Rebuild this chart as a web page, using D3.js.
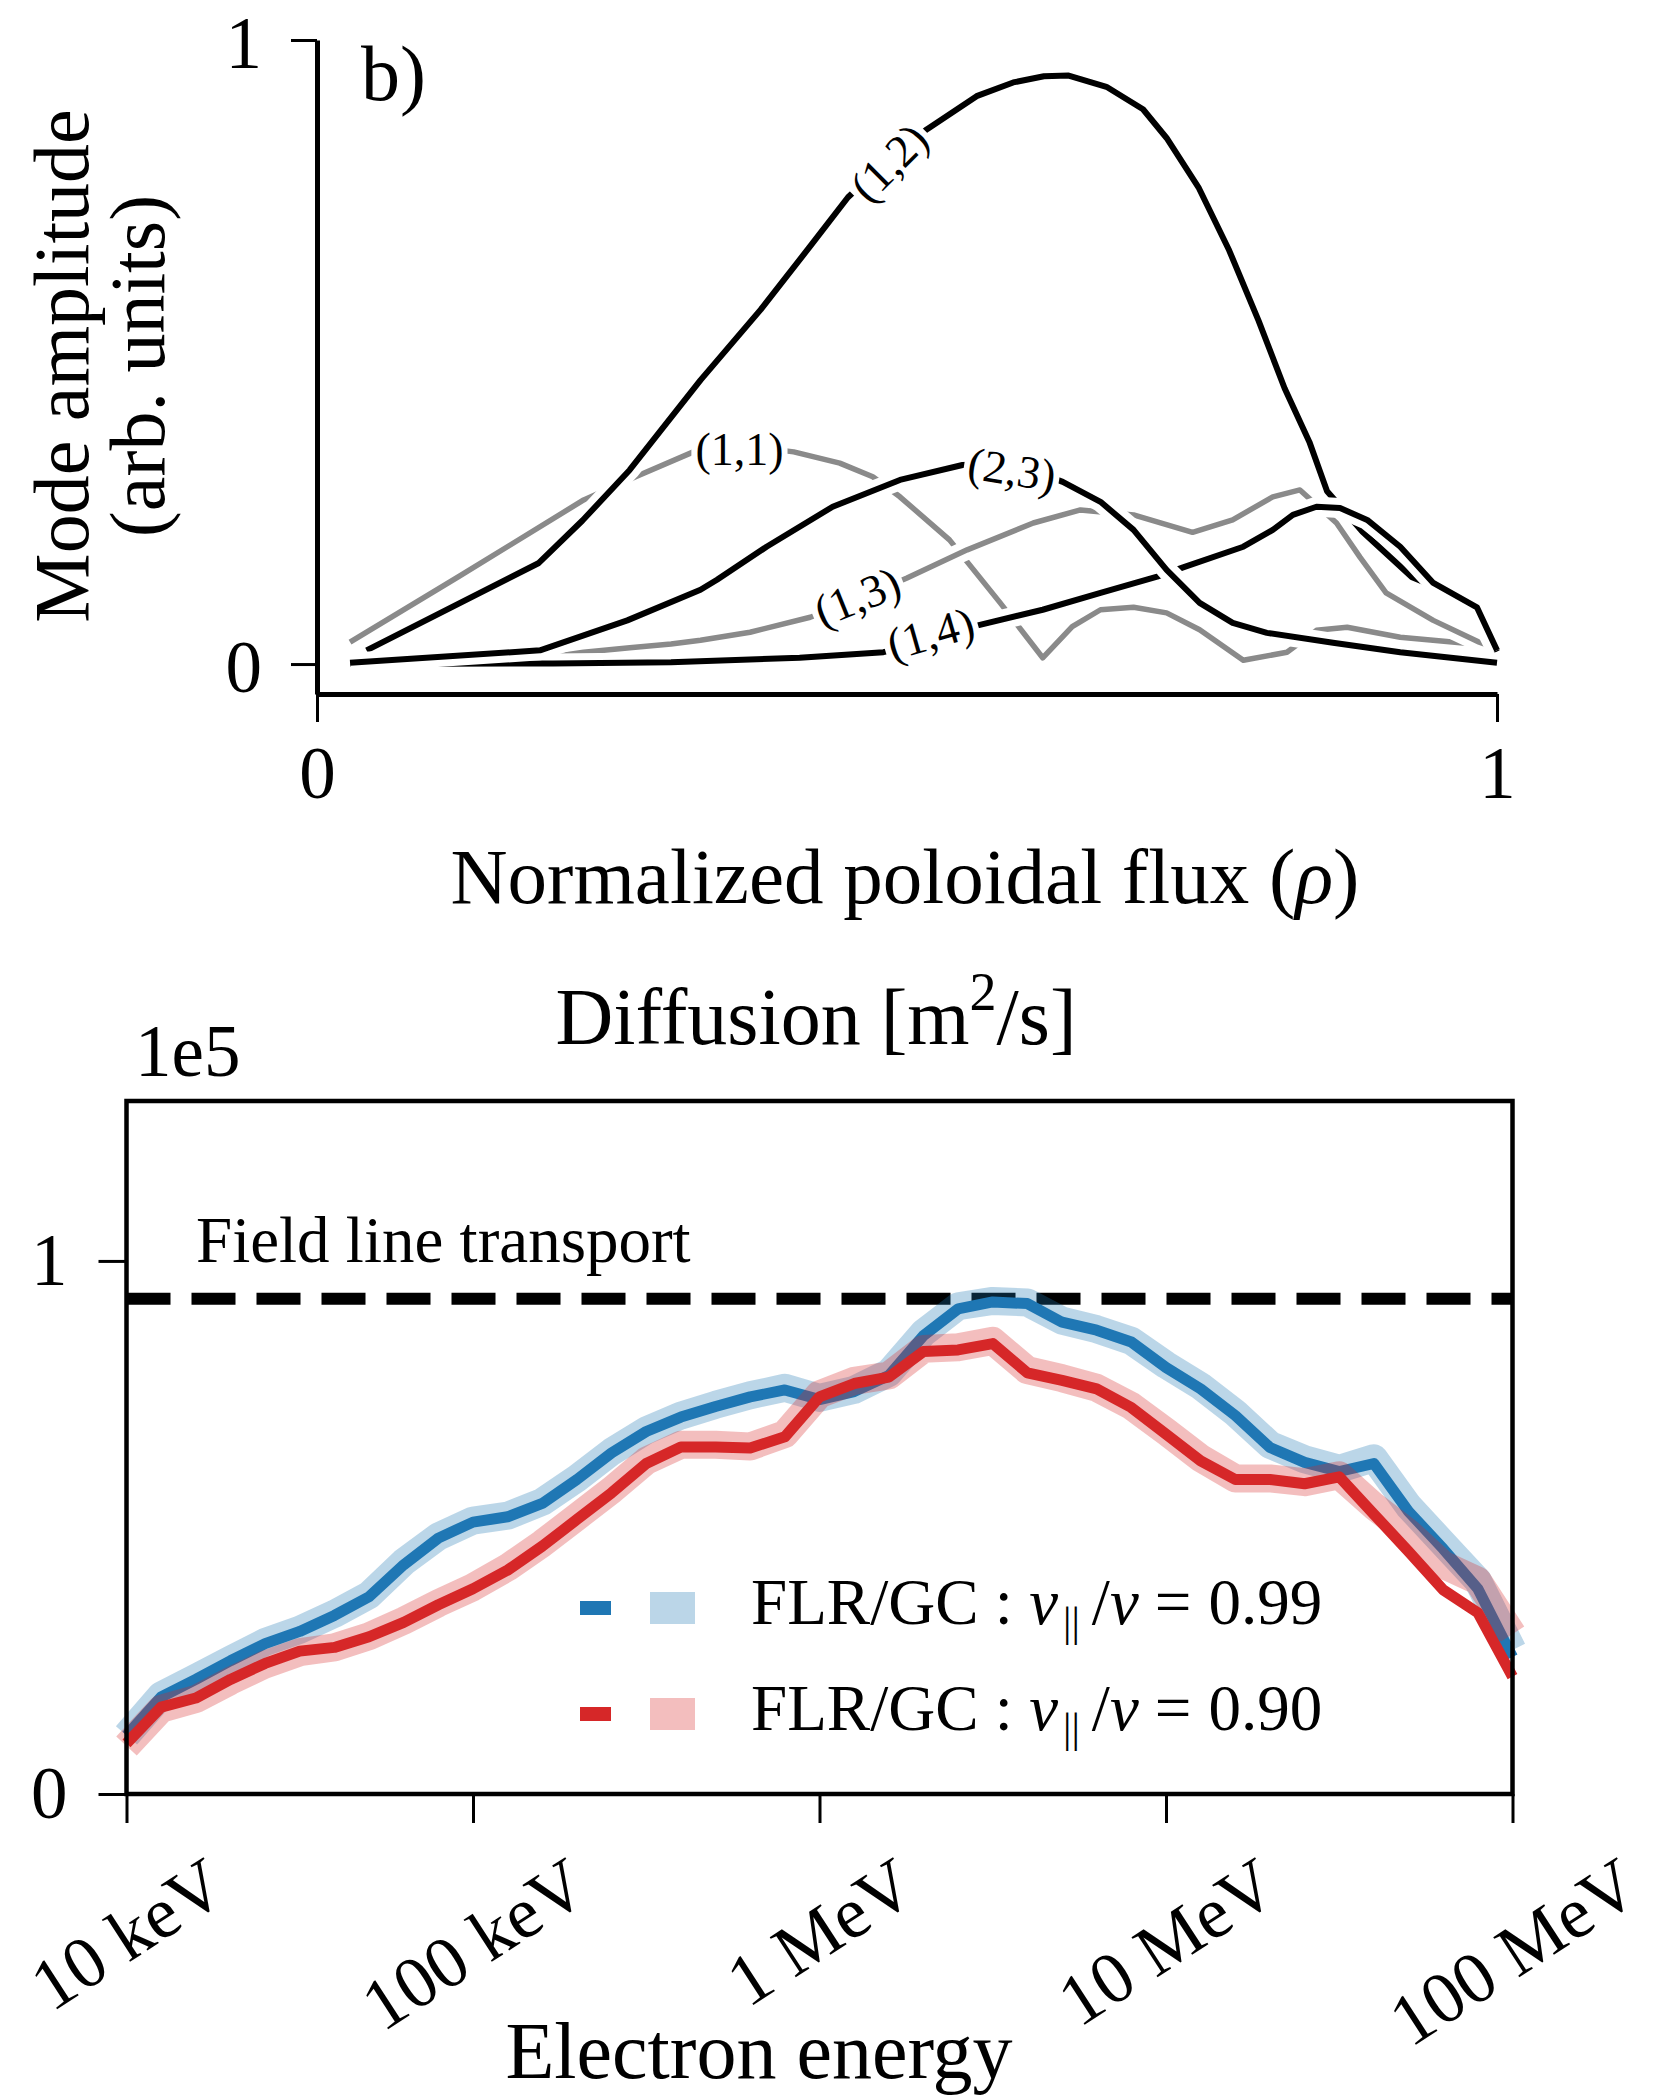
<!DOCTYPE html>
<html><head><meta charset="utf-8">
<script src="https://cdn.jsdelivr.net/npm/d3@7"></script>
<style>
body{margin:0;background:#fff}
svg{display:block}
text{font-family:"Liberation Serif","Times New Roman",Times,serif;fill:#000}
</style></head>
<body><svg id="c" width="1664" height="2099"></svg>
<script>
// ---------------- DATA: top panel (mode amplitudes) ----------------
const modeNames = ["(1,1)", "(1,3)", "(1,2)", "(1,4)", "(2,3)"];
const rho11 = [0.028,0.12,0.226,0.27,0.319,0.36,0.404,0.443,0.471,0.494,0.536,0.579,0.615,0.64,0.664,0.692,0.72,0.748,0.785,0.822,0.847,0.873,0.918,0.969,1.0];
const amp11 = [0.035,0.14,0.263,0.30,0.34,0.35,0.34,0.322,0.30,0.268,0.199,0.098,0.01,0.06,0.087,0.091,0.082,0.055,0.006,0.019,0.054,0.059,0.043,0.034,0.03];
const rho13 = [0.028,0.1,0.19,0.226,0.265,0.30,0.325,0.367,0.418,0.46,0.5,0.551,0.607,0.647,0.692,0.742,0.776,0.81,0.833,0.864,0.884,0.906,0.946,0.985,1.0];
const amp13 = [0.0,0.0,0.009,0.019,0.026,0.032,0.038,0.051,0.075,0.105,0.138,0.183,0.226,0.247,0.239,0.211,0.231,0.268,0.279,0.226,0.171,0.114,0.07,0.035,0.025];
const rho12 = [0.042,0.188,0.225,0.265,0.325,0.376,0.419,0.45,0.485,0.517,0.559,0.59,0.616,0.637,0.669,0.70,0.72,0.747,0.773,0.798,0.82,0.841,0.856,0.886,0.928,0.946,0.983,1.0];
const amp12 = [0.022,0.162,0.23,0.311,0.455,0.568,0.672,0.748,0.81,0.857,0.91,0.932,0.942,0.943,0.925,0.889,0.843,0.764,0.663,0.55,0.442,0.356,0.277,0.212,0.139,0.125,0.085,0.02];
const rho14 = [0.028,0.2,0.3,0.409,0.48,0.52,0.56,0.615,0.664,0.712,0.734,0.785,0.81,0.827,0.847,0.867,0.89,0.918,0.946,0.983,1.0];
const amp14 = [0.0,0.001,0.003,0.01,0.019,0.035,0.062,0.087,0.114,0.14,0.155,0.188,0.215,0.239,0.252,0.25,0.231,0.188,0.13,0.091,0.022];
const rho23 = [0.028,0.189,0.263,0.325,0.339,0.381,0.437,0.494,0.547,0.59,0.632,0.664,0.692,0.72,0.748,0.776,0.805,0.861,0.918,1.0];
const amp23 = [0.002,0.022,0.07,0.119,0.135,0.188,0.252,0.295,0.319,0.322,0.292,0.26,0.215,0.151,0.098,0.066,0.05,0.034,0.019,0.002];
// inline label anchors (data coords) and angle
const labelRho = [0.358, 0.458, 0.485, 0.52, 0.589];
const labelAmp = [0.343, 0.107, 0.803, 0.048, 0.311];
const labelAngle = [0, -22, -45, -16, 9];
const topXTicks = [0, 1];
const topYTicks = [0, 1];

// ---------------- DATA: bottom panel (diffusion) ----------------
const energyLog10 = [4.0,4.1,4.2,4.3,4.4,4.5,4.6,4.7,4.8,4.9,5.0,5.1,5.2,5.3,5.4,5.5,5.6,5.7,5.8,5.9,6.0,6.1,6.2,6.3,6.4,6.5,6.6,6.7,6.8,6.9,7.0,7.1,7.2,7.3,7.4,7.5,7.6,7.7,7.8,7.9,8.0];
const flr099 = [0.11,0.182,0.215,0.25,0.282,0.305,0.335,0.37,0.43,0.48,0.51,0.52,0.545,0.59,0.64,0.68,0.707,0.727,0.745,0.758,0.74,0.755,0.785,0.86,0.91,0.923,0.92,0.885,0.87,0.848,0.80,0.76,0.71,0.65,0.622,0.605,0.62,0.53,0.46,0.385,0.257];
const gc099  = [0.11,0.185,0.218,0.252,0.285,0.308,0.338,0.373,0.435,0.483,0.513,0.522,0.548,0.592,0.642,0.682,0.71,0.73,0.748,0.762,0.743,0.758,0.79,0.865,0.915,0.925,0.922,0.888,0.872,0.85,0.805,0.765,0.715,0.655,0.628,0.61,0.63,0.54,0.47,0.40,0.27];
const flr090 = [0.095,0.163,0.18,0.215,0.245,0.268,0.275,0.295,0.322,0.355,0.385,0.42,0.465,0.515,0.565,0.62,0.651,0.651,0.649,0.67,0.745,0.77,0.782,0.83,0.833,0.845,0.79,0.776,0.76,0.725,0.675,0.625,0.59,0.59,0.582,0.595,0.525,0.455,0.383,0.34,0.22];
const gc090  = [0.09,0.16,0.178,0.212,0.243,0.266,0.275,0.296,0.325,0.358,0.388,0.425,0.47,0.52,0.57,0.625,0.655,0.655,0.652,0.675,0.75,0.775,0.785,0.835,0.838,0.85,0.795,0.78,0.762,0.728,0.68,0.63,0.592,0.592,0.585,0.598,0.54,0.49,0.43,0.40,0.30];
const fieldLineValue = 0.929;
const bottomXTicks = [1e4, 1e5, 1e6, 1e7, 1e8];
const bottomXTickLabels = ["10 keV", "100 keV", "1 MeV", "10 MeV", "100 MeV"];
const bottomYTicks = [0, 1];
const legendNumbers = ["0.99", "0.90"];

// ---------------- DRAW ----------------
const svg = d3.select("#c");
const TICKFS = 73, LABELFS = 79;

// ---- top panel ----
const xT = d3.scaleLinear().domain([0, 1]).range([317, 1497]);
const yT = d3.scaleLinear().domain([-0.048, 1]).range([694, 40]);

const axXT = svg.append("g").attr("transform", `translate(0,${yT(-0.048)})`)
  .call(d3.axisBottom(xT).tickValues(topXTicks).tickFormat(d3.format("d")).tickSize(28).tickSizeOuter(0).tickPadding(24));
const axYT = svg.append("g").attr("transform", `translate(${xT(0)},0)`)
  .call(d3.axisLeft(yT).tickValues(topYTicks).tickFormat(d3.format("d")).tickSize(26).tickSizeOuter(0).tickPadding(29));
[axXT, axYT].forEach(a => {
  a.attr("font-family", null).attr("font-size", TICKFS);
  a.select(".domain").attr("stroke", "#000").attr("stroke-width", 5);
  a.selectAll(".tick line").attr("stroke", "#000").attr("stroke-width", 3);
  a.selectAll(".tick text").attr("fill", "#000");
});
axYT.selectAll(".tick text").attr("dy", "0.37em");

svg.append("text").attr("x", 361).attr("y", 100).attr("font-size", 78).text("b)");

const topData = [[rho11, amp11], [rho13, amp13], [rho12, amp12], [rho14, amp14], [rho23, amp23]];
const topColors = ["#8a8a8a", "#8a8a8a", "#000", "#000", "#000"];
const topWidths = [5.5, 5.5, 6, 6, 6];
const lineT = d3.line().x(d => xT(d[0])).y(d => yT(d[1]));
topData.forEach((pair, i) => {
  const pts = pair[0].map((r, k) => [r, pair[1][k]]);
  svg.append("path").attr("d", lineT(pts)).attr("fill", "none")
    .attr("stroke", "#fff").attr("stroke-width", topWidths[i] + 14).attr("stroke-linejoin", "round");
  svg.append("path").attr("d", lineT(pts)).attr("fill", "none")
    .attr("stroke", topColors[i]).attr("stroke-width", topWidths[i]).attr("stroke-linejoin", "round");
});
modeNames.forEach((name, i) => {
  const g = svg.append("g").attr("transform", `translate(${xT(labelRho[i])},${yT(labelAmp[i])}) rotate(${labelAngle[i]})`);
  const rect = g.append("rect").attr("fill", "#fff");
  const t = g.append("text").attr("text-anchor", "middle").attr("dy", "0.33em").attr("font-size", 46).text(name);
  const w = t.node().getComputedTextLength();
  rect.attr("x", -w / 2 - 4).attr("y", -22).attr("width", w + 8).attr("height", 44);
});

// axis labels top
svg.append("text").attr("x", 905).attr("y", 903).attr("text-anchor", "middle").attr("font-size", LABELFS)
  .call(t => {
    t.append("tspan").text("Normalized poloidal flux (");
    t.append("tspan").attr("font-style", "italic").text("ρ");
    t.append("tspan").text(")");
  });
const ylab = svg.append("g").attr("transform", "translate(0,366) rotate(-90)");
ylab.append("text").attr("x", 0).attr("y", 88).attr("text-anchor", "middle").attr("font-size", 78).text("Mode amplitude");
ylab.append("text").attr("x", 0).attr("y", 164).attr("text-anchor", "middle").attr("font-size", 78).text("(arb. units)");

// ---- bottom panel ----
const xB = d3.scaleLog().domain([1e4, 1e8]).range([126.5, 1512.5]);
const yB = d3.scaleLinear().domain([0, 1.3]).range([1794, 1101]);

svg.append("text").attr("x", 816).attr("y", 1044).attr("text-anchor", "middle").attr("font-size", 80)
  .call(t => { t.append("tspan").text("Diffusion [m"); t.append("tspan").attr("font-size", 54).attr("dy", -34).text("2"); t.append("tspan").attr("dy", 34).text("/s]"); });
svg.append("text").attr("x", 135).attr("y", 1076).attr("font-size", TICKFS).text("1e5");

// reference dashed line
svg.append("line").attr("x1", xB.range()[0]).attr("x2", xB.range()[1])
  .attr("y1", yB(fieldLineValue)).attr("y2", yB(fieldLineValue))
  .attr("stroke", "#000").attr("stroke-width", 12).attr("stroke-dasharray", "44,21");
svg.append("text").attr("x", 196).attr("y", 1262).attr("font-size", 65).text("Field line transport");

const lineB = d3.line().x(d => xB(Math.pow(10, d[0]))).y(d => yB(d[1])).curve(d3.curveLinear);
const zipE = arr => energyLog10.map((e, k) => [e, arr[k]]);
const BLUE = "#1f77b4", RED = "#d62728";
const seriesDraw = [[gc099, BLUE, 0.3, 28], [flr099, BLUE, 1, 11], [gc090, RED, 0.3, 28], [flr090, RED, 1, 11]];
seriesDraw.forEach(s => {
  svg.append("path").attr("d", lineB(zipE(s[0]))).attr("fill", "none").attr("stroke", s[1])
    .attr("stroke-opacity", s[2]).attr("stroke-width", s[3]).attr("stroke-linejoin", "round");
});

// frame
svg.append("rect").attr("x", xB.range()[0]).attr("y", yB(1.3)).attr("width", xB.range()[1] - xB.range()[0])
  .attr("height", yB(0) - yB(1.3)).attr("fill", "none").attr("stroke", "#000").attr("stroke-width", 4.5);

const axXB = svg.append("g").attr("transform", `translate(0,${yB(0)})`)
  .call(d3.axisBottom(xB).tickValues(bottomXTicks).tickFormat((d, i) => bottomXTickLabels[i]).tickSize(29).tickSizeOuter(0));
const axYB = svg.append("g").attr("transform", `translate(${xB.range()[0]},0)`)
  .call(d3.axisLeft(yB).tickValues(bottomYTicks).tickFormat(d3.format("d")).tickSize(28).tickSizeOuter(0).tickPadding(31));
[axXB, axYB].forEach(a => {
  a.attr("font-family", null).attr("font-size", TICKFS);
  a.select(".domain").remove();
  a.selectAll(".tick line").attr("stroke", "#000").attr("stroke-width", 3);
  a.selectAll(".tick text").attr("fill", "#000");
});
const ANG = 33;
const ROT = ANG * Math.PI / 180;
axXB.selectAll(".tick text").each(function () {
  const t = d3.select(this);
  const L = this.getComputedTextLength();
  const h = TICKFS * 0.7;
  const H = L * Math.sin(ROT) + h * Math.cos(ROT);
  const cy = 60 + H / 2;
  t.attr("y", 0).attr("dy", "0.35em").attr("text-anchor", "middle")
    .attr("transform", `translate(0,${cy}) rotate(${-ANG})`);
});
svg.append("text").attr("x", 759).attr("y", 2078).attr("text-anchor", "middle").attr("font-size", 80).text("Electron energy");

// legend
const legColors = [BLUE, RED];
const legY = [1608, 1714];
legendNumbers.forEach((num, i) => {
  svg.append("rect").attr("x", 580).attr("y", legY[i] - 7).attr("width", 31).attr("height", 14).attr("fill", legColors[i]);
  svg.append("rect").attr("x", 650).attr("y", legY[i] - 16).attr("width", 45).attr("height", 32).attr("fill", legColors[i]).attr("fill-opacity", 0.3);
  const t = svg.append("text").attr("x", 751).attr("y", legY[i] + 16).attr("font-size", 65);
  t.append("tspan").text("FLR/GC : ");
  t.append("tspan").attr("font-style", "italic").text("v");
  t.append("tspan").attr("font-size", 42).attr("dy", 12).attr("dx", 5).text("||");
  t.append("tspan").attr("dy", -12).attr("dx", 12).text("/");
  t.append("tspan").attr("font-style", "italic").text("v");
  t.append("tspan").attr("dx", 16).text("=");
  t.append("tspan").attr("dx", 17).text(num);
});
</script></body></html>
